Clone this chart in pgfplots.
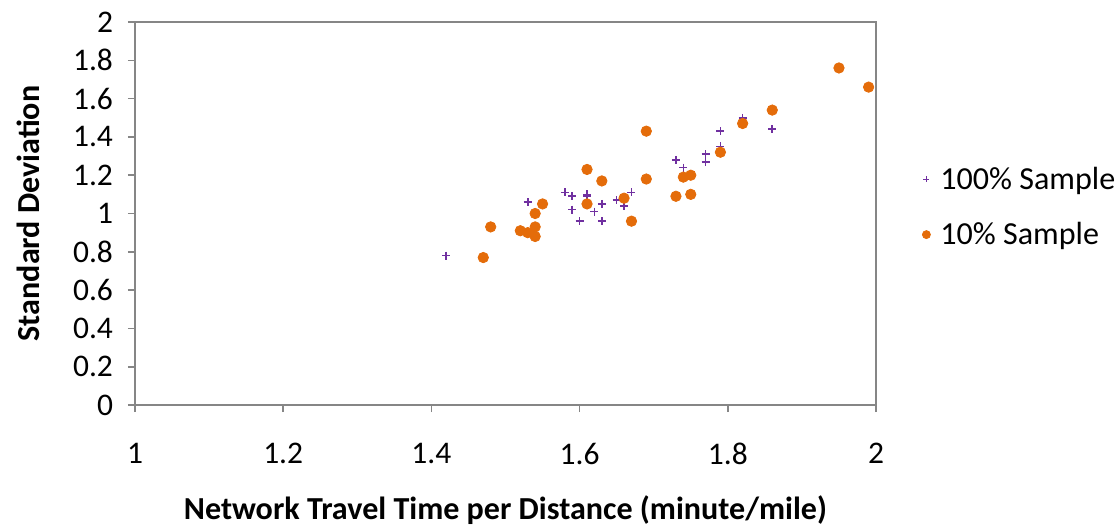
\documentclass[border=0pt]{standalone}
\usepackage{fontspec}
\setmainfont{Carlito}
\usepackage{pgfplots}
\pgfplotsset{compat=1.18}
\definecolor{axgray}{HTML}{868686}
\definecolor{ppurple}{HTML}{7030A0}
\definecolor{porange}{HTML}{E46C0A}
\begin{document}
\begin{tikzpicture}[x=1bp,y=1bp]
\path[use as bounding box] (-67.5,-61.5) rectangle (492.5,202.5);
\begin{axis}[
  at={(0,0)}, anchor=origin,
  scale only axis, width=370.5bp, height=191.5bp,
  xmin=1, xmax=2, ymin=0, ymax=2,
  xtick={1,1.2,...,2.01}, ytick={0,0.2,...,2.01},
  xtick pos=bottom, ytick pos=left,
  /pgf/number format/assume math mode=true,
  /pgf/number format/.cd, fixed, precision=1, /tikz/.cd,
  tick label style={font=\fontsize{15.8}{18}\selectfont, black},
  axis line style={axgray, line width=1bp},
  tick style={axgray, line width=0.8bp},
  tick align=outside, major tick length=3.5bp,
  xticklabel style={yshift=-12bp},
  yticklabel style={xshift=-4bp},
  xlabel={\textbf{Network Travel Time per Distance (minute/mile)}},
  ylabel={\textbf{Standard Deviation}},
  label style={font=\fontsize{16.1}{18}\selectfont},
  xlabel style={at={(axis description cs:0.5,0)}, anchor=center, yshift=-52.5bp},
  ylabel style={at={(axis description cs:0,0.5)}, anchor=center, rotate=0, yshift=53.5bp},
  legend style={at={(rel axis cs:1.054,0.517)}, anchor=west, draw=none, fill=none,
    font=\fontsize{16.1}{18}\selectfont, row sep=11bp,
    nodes={inner xsep=5bp}},
  legend cell align=left,
  clip=false,
]
\addplot[only marks, mark=+, mark size=2bp, ppurple, mark options={line width=0.8bp},
  legend image post style={mark size=1.5bp}] coordinates {
(1.42,0.78)(1.53,1.06)(1.58,1.11)(1.59,1.09)(1.59,1.02)(1.60,0.96)(1.61,1.10)(1.61,1.09)
(1.62,1.01)(1.63,1.05)(1.63,0.96)(1.65,1.07)(1.66,1.04)(1.67,1.11)(1.73,1.28)(1.74,1.24)
(1.77,1.31)(1.77,1.27)(1.79,1.43)(1.79,1.35)(1.82,1.50)(1.82,1.46)(1.86,1.44)
};
\addlegendentry{100\% Sample}
\addplot[only marks, mark=*, mark size=2.6bp, porange, mark options={draw=porange, fill=porange},
  legend image post style={mark size=2bp}] coordinates {
(1.47,0.77)(1.48,0.93)(1.52,0.91)(1.53,0.90)(1.54,0.93)(1.54,0.88)(1.54,1.00)(1.55,1.05)
(1.61,1.23)(1.61,1.05)(1.63,1.17)(1.66,1.08)(1.67,0.96)(1.69,1.43)(1.69,1.18)(1.73,1.09)
(1.74,1.19)(1.75,1.20)(1.75,1.10)(1.79,1.32)(1.82,1.47)(1.86,1.54)(1.95,1.76)(1.99,1.66)
};
\addlegendentry{10\% Sample}
\end{axis}
\end{tikzpicture}
\end{document}
